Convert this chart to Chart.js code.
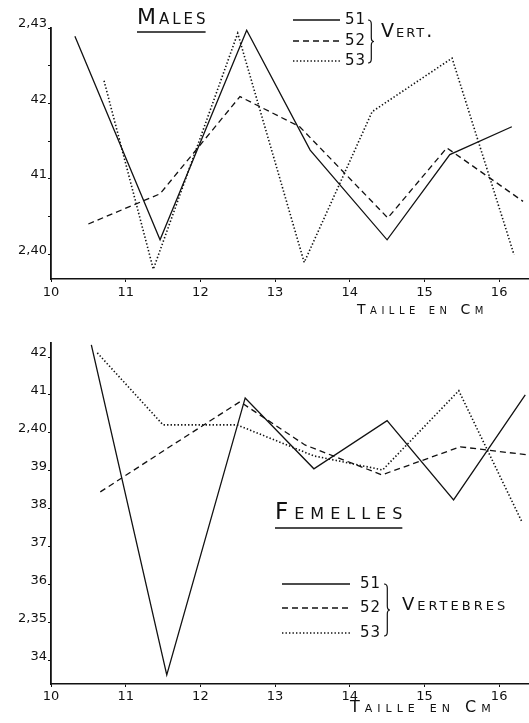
<!DOCTYPE html>
<html><head><meta charset="utf-8">
<script src="https://cdn.jsdelivr.net/npm/chart.js@4.4.1/dist/chart.umd.min.js"></script>
<style>
html,body{margin:0;padding:0;background:#fff;}
#c1{position:absolute;left:0;top:0;}
#c2{position:absolute;left:0;top:320px;}
</style></head><body>
<canvas id="c1" width="529" height="320"></canvas>
<canvas id="c2" width="529" height="403"></canvas>
<script>
// ---------- data ----------
const seriesLabels = ['51', '52', '53'];

// Males
const malesX51 = [10.32, 11.46, 12.62, 13.47, 14.50, 15.34, 16.17];
const malesY51 = [2.4289, 2.4019, 2.4297, 2.4138, 2.4019, 2.4132, 2.4169];
const malesX52 = [10.50, 11.46, 12.53, 13.33, 14.51, 15.30, 16.32];
const malesY52 = [2.4040, 2.4080, 2.4209, 2.4169, 2.4048, 2.4141, 2.4070];
const malesX53 = [10.71, 11.37, 12.50, 13.39, 14.30, 15.37, 16.20];
const malesY53 = [2.4230, 2.3980, 2.4293, 2.3989, 2.4189, 2.4260, 2.3999];

// Femelles
const femX51 = [10.54, 11.55, 12.60, 13.52, 14.50, 15.39, 16.35];
const femY51 = [2.4232, 2.3361, 2.4092, 2.3905, 2.4032, 2.3823, 2.4100];
const femX52 = [10.66, 11.55, 12.53, 13.40, 14.43, 15.48, 16.37];
const femY52 = [2.3844, 2.3958, 2.4082, 2.3968, 2.3889, 2.3963, 2.3942];
const femX53 = [10.62, 11.50, 12.49, 13.52, 14.44, 15.46, 16.31];
const femY53 = [2.4211, 2.4021, 2.4021, 2.3939, 2.3902, 2.4111, 2.3763];

// ticks
const xTickValues = [10, 11, 12, 13, 14, 15, 16];
const xTickLabels = ['10', '11', '12', '13', '14', '15', '16'];
const malesYTickValues = [2.400, 2.405, 2.410, 2.415, 2.420, 2.425, 2.430];
const malesYTickLabels = ['2,40', '', '41', '', '42', '', '2,43'];
const femYTickValues = [2.34, 2.35, 2.36, 2.37, 2.38, 2.39, 2.40, 2.41, 2.42];
const femYTickLabels = ['34', '2,35', '36', '37', '38', '39', '2,40', '41', '42'];

// texts
const malesTitle = 'Males';
const femTitle = 'Femelles';
const xAxisTitle = 'Taille en Cm';
const malesGroup = 'Vert.';
const femGroup = 'Vertebres';

// ---------- style ----------
const FONT = "'DejaVu Sans', sans-serif";
const INK = '#111';
const lineStyles = [
  { dash: [], width: 1.3 },
  { dash: [6, 4], width: 1.3 },
  { dash: [1.4, 2.1], width: 1.6 }
];
const xMin = 10, xMax = 16.40;

function capsText(ctx, text, x, y, size, spacing) {
  ctx.save();
  ctx.font = size + 'px ' + FONT;
  ctx.fontVariantCaps = 'small-caps';
  ctx.letterSpacing = spacing + 'px';
  ctx.textAlign = 'left';
  ctx.textBaseline = 'middle';
  ctx.fillStyle = INK;
  ctx.fillText(text, x, y);
  const w = ctx.measureText(text).width;
  ctx.restore();
  return w;
}

function brace(ctx, x, top, bottom) {
  const mid = (top + bottom) / 2, w = 6, c = x + w * 0.55;
  ctx.beginPath();
  ctx.moveTo(x, top);
  ctx.quadraticCurveTo(c, top, c, top + 4);
  ctx.lineTo(c, mid - 4);
  ctx.quadraticCurveTo(c, mid, x + w, mid);
  ctx.quadraticCurveTo(c, mid, c, mid + 4);
  ctx.lineTo(c, bottom - 4);
  ctx.quadraticCurveTo(c, bottom, x, bottom);
  ctx.stroke();
}

function decorPlugin(d) {
  return {
    id: 'decor',
    afterDraw(chart) {
      const ctx = chart.ctx;
      ctx.save();
      // title
      const tw = capsText(ctx, d.title.text, d.title.x, d.title.y, d.title.size, d.title.spacing);
      ctx.strokeStyle = INK;
      ctx.lineWidth = 1.5;
      ctx.beginPath();
      ctx.moveTo(d.title.x, d.title.uy);
      ctx.lineTo(d.title.x + tw - d.title.spacing, d.title.uy);
      ctx.stroke();
      // axis title
      capsText(ctx, d.axis.text, d.axis.x, d.axis.y, d.axis.size, d.axis.spacing);
      // legend
      const L = d.legend;
      chart.data.datasets.forEach((ds, i) => {
        ctx.save();
        ctx.strokeStyle = INK;
        ctx.lineWidth = ds.borderWidth;
        ctx.setLineDash(ds.borderDash);
        ctx.beginPath();
        ctx.moveTo(L.x1, L.ys[i]);
        ctx.lineTo(L.x2, L.ys[i]);
        ctx.stroke();
        ctx.restore();
        capsText(ctx, ds.label, L.labelX, L.ys[i], L.labelSize, 1);
      });
      ctx.strokeStyle = INK;
      ctx.lineWidth = 1.2;
      ctx.setLineDash([]);
      brace(ctx, L.braceX, L.braceTop, L.braceBottom);
      capsText(ctx, L.group, L.groupX, L.groupY, L.groupSize, L.groupSpacing);
      ctx.restore();
    }
  };
}

function makeChart(id, xs, ys, yMin, yMax, yTicks, yLabels, padTop, xAxisH, tickPad, decor) {
  const datasets = seriesLabels.map((lab, i) => ({
    label: lab,
    data: xs[i].map((x, j) => ({ x: x, y: ys[i][j] })),
    borderColor: INK,
    borderWidth: lineStyles[i].width,
    borderDash: lineStyles[i].dash,
    pointRadius: 0,
    fill: false,
    tension: 0
  }));
  return new Chart(document.getElementById(id), {
    type: 'line',
    data: { datasets: datasets },
    options: {
      responsive: false,
      animation: false,
      devicePixelRatio: 1,
      layout: { padding: { top: padTop, left: 0, right: 0, bottom: 0 } },
      plugins: { legend: { display: false }, tooltip: { enabled: false }, title: { display: false } },
      scales: {
        x: {
          type: 'linear', min: xMin, max: xMax,
          afterBuildTicks: s => { s.ticks = xTickValues.map(v => ({ value: v })); },
          afterFit: s => { s.height = xAxisH; },
          ticks: { callback: (v, i) => xTickLabels[i], font: { family: FONT, size: 13 }, color: INK,
                   padding: tickPad, maxRotation: 0, autoSkip: false },
          grid: { drawOnChartArea: false, drawTicks: true, tickLength: 3, color: INK, lineWidth: 1 },
          border: { display: true, color: INK, width: 1.6 }
        },
        y: {
          type: 'linear', min: yMin, max: yMax,
          afterBuildTicks: s => { s.ticks = yTicks.map(v => ({ value: v })); },
          afterFit: s => { s.width = 51; },
          ticks: { callback: (v, i) => yLabels[i], font: { family: FONT, size: 13 }, color: INK,
                   padding: 1, autoSkip: false, labelOffset: -4 },
          grid: { drawOnChartArea: false, drawTicks: true, tickLength: 3, color: INK, lineWidth: 1 },
          border: { display: true, color: INK, width: 1.8 }
        }
      }
    },
    plugins: [decorPlugin(decor)]
  });
}

makeChart('c1',
  [malesX51, malesX52, malesX53], [malesY51, malesY52, malesY53],
  2.3967, 2.4300, malesYTickValues, malesYTickLabels, 28, 41, 3,
  {
    title: { text: malesTitle, x: 137, y: 18, size: 22, spacing: 3, uy: 32 },
    axis: { text: xAxisTitle, x: 357, y: 310, size: 14, spacing: 4.5 },
    legend: { x1: 293, x2: 340, ys: [20, 41, 61], labelX: 345, labelSize: 15,
              braceX: 368, braceTop: 20, braceBottom: 63,
              group: malesGroup, groupX: 381, groupY: 32, groupSize: 19, groupSpacing: 2 }
  });

makeChart('c2',
  [femX51, femX52, femX53], [femY51, femY52, femY53],
  2.3337, 2.4237, femYTickValues, femYTickLabels, 23, 39, 2,
  {
    title: { text: femTitle, x: 275, y: 193, size: 23, spacing: 6, uy: 208 },
    axis: { text: xAxisTitle, x: 350, y: 388, size: 16, spacing: 5 },
    legend: { x1: 282, x2: 350, ys: [264, 288, 313], labelX: 360, labelSize: 15,
              braceX: 384, braceTop: 264, braceBottom: 316,
              group: femGroup, groupX: 402, groupY: 285, groupSize: 18, groupSpacing: 3 }
  });
</script>
</body></html>
